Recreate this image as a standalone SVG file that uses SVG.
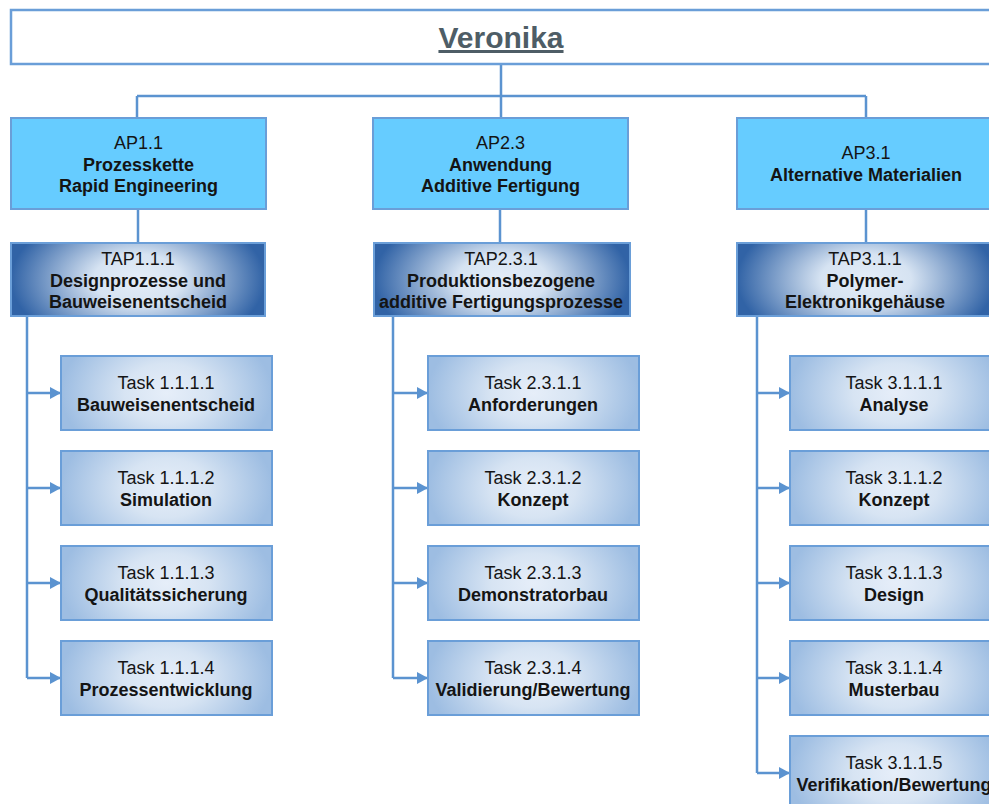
<svg xmlns="http://www.w3.org/2000/svg" width="989" height="804" viewBox="0 0 989 804">
<defs>
<style>
.t{font-family:"Liberation Sans",Arial,sans-serif;font-size:18px;fill:#141414;text-anchor:middle}
.b{font-weight:bold}
.title{font-family:"Liberation Sans",Arial,sans-serif;font-size:30px;font-weight:bold;fill:#4e5d66;text-anchor:middle;text-decoration:underline}
.ap{fill:#66ccff;stroke:#6a9ed8;stroke-width:2}
.tap{fill:url(#gTap);stroke:#6a9ed8;stroke-width:2}
.task{fill:url(#gTask);stroke:#6a9ed8;stroke-width:2}
.top{fill:#ffffff;stroke:#6a9ed8;stroke-width:2.5}
.ln{fill:none;stroke:#5b93d0;stroke-width:2.5}
</style>
<radialGradient id="gTap" cx="0.5" cy="0.5" r="0.5" gradientTransform="translate(0.5 0.5) scale(1 2) translate(-0.5 -0.5)">
<stop offset="0" stop-color="#e4edf8"/>
<stop offset="0.35" stop-color="#d6e3f2"/>
<stop offset="1" stop-color="#3163a6"/>
</radialGradient>
<radialGradient id="gTask" cx="0.5" cy="0.5" r="0.5" gradientTransform="translate(0.5 0.5) scale(1 2) translate(-0.5 -0.5)">
<stop offset="0" stop-color="#e6eef9"/>
<stop offset="0.4" stop-color="#d7e4f3"/>
<stop offset="1" stop-color="#9dbde2"/>
</radialGradient>
<marker id="arr" markerUnits="userSpaceOnUse" markerWidth="12" markerHeight="12" refX="11" refY="6" orient="auto">
<path d="M0,0 L11,6 L0,12 Z" fill="#5b93d0"/>
</marker>
</defs>
<rect width="989" height="804" fill="#ffffff"/>

<g id="connectors">
<path class="ln" d="M501,64 V96 M137,96 H866 M137,96 V118 M501,96 V118 M866,96 V118"/>
<path class="ln" d="M138,209 V243 M500,209 V243 M866,209 V243"/>
<path class="ln" d="M27,316 V678 M393,316 V678 M757,316 V773"/>
<g marker-end="url(#arr)">
<path class="ln" d="M27,393 H61"/>
<path class="ln" d="M27,488 H61"/>
<path class="ln" d="M27,583 H61"/>
<path class="ln" d="M27,678 H61"/>
<path class="ln" d="M393,393 H428"/>
<path class="ln" d="M393,488 H428"/>
<path class="ln" d="M393,583 H428"/>
<path class="ln" d="M393,678 H428"/>
<path class="ln" d="M757,393 H790"/>
<path class="ln" d="M757,488 H790"/>
<path class="ln" d="M757,583 H790"/>
<path class="ln" d="M757,678 H790"/>
<path class="ln" d="M757,773 H790"/>
</g>
</g>

<g id="veronika">
<rect class="top" x="11" y="10" width="990" height="54"/>
<text class="title" x="501" y="48">Veronika</text>
</g>

<g id="ap11">
<rect class="ap" x="11" y="118" width="255" height="91"/>
<text class="t" x="138.5" y="149">AP1.1</text>
<text class="t b" x="138.5" y="171">Prozesskette</text>
<text class="t b" x="138.5" y="192">Rapid Engineering</text>
</g>
<g id="ap23">
<rect class="ap" x="373" y="118" width="255" height="91"/>
<text class="t" x="500.5" y="149">AP2.3</text>
<text class="t b" x="500.5" y="171">Anwendung</text>
<text class="t b" x="500.5" y="192">Additive Fertigung</text>
</g>
<g id="ap31">
<rect class="ap" x="737" y="118" width="258" height="91"/>
<text class="t" x="866" y="159">AP3.1</text>
<text class="t b" x="866" y="181">Alternative Materialien</text>
</g>

<g id="tap111">
<rect class="tap" x="11" y="243" width="254" height="73"/>
<text class="t" x="138" y="265">TAP1.1.1</text>
<text class="t b" x="138" y="287">Designprozesse und</text>
<text class="t b" x="138" y="308">Bauweisenentscheid</text>
</g>
<g id="tap231">
<rect class="tap" x="374" y="243" width="256" height="73"/>
<text class="t" x="501" y="265">TAP2.3.1</text>
<text class="t b" x="501" y="287">Produktionsbezogene</text>
<text class="t b" x="501" y="308">additive Fertigungsprozesse</text>
</g>
<g id="tap311">
<rect class="tap" x="737" y="243" width="258" height="73"/>
<text class="t" x="865" y="265">TAP3.1.1</text>
<text class="t b" x="865" y="287">Polymer-</text>
<text class="t b" x="865" y="308">Elektronikgehäuse</text>
</g>

<g id="task1111">
<rect class="task" x="61" y="356" width="211" height="74"/>
<text class="t" x="166" y="389">Task 1.1.1.1</text>
<text class="t b" x="166" y="411">Bauweisenentscheid</text>
</g>
<g id="task1112">
<rect class="task" x="61" y="451" width="211" height="74"/>
<text class="t" x="166" y="484">Task 1.1.1.2</text>
<text class="t b" x="166" y="506">Simulation</text>
</g>
<g id="task1113">
<rect class="task" x="61" y="546" width="211" height="74"/>
<text class="t" x="166" y="579">Task 1.1.1.3</text>
<text class="t b" x="166" y="601">Qualitätssicherung</text>
</g>
<g id="task1114">
<rect class="task" x="61" y="641" width="211" height="74"/>
<text class="t" x="166" y="674">Task 1.1.1.4</text>
<text class="t b" x="166" y="696">Prozessentwicklung</text>
</g>

<g id="task2311">
<rect class="task" x="428" y="356" width="211" height="74"/>
<text class="t" x="533" y="389">Task 2.3.1.1</text>
<text class="t b" x="533" y="411">Anforderungen</text>
</g>
<g id="task2312">
<rect class="task" x="428" y="451" width="211" height="74"/>
<text class="t" x="533" y="484">Task 2.3.1.2</text>
<text class="t b" x="533" y="506">Konzept</text>
</g>
<g id="task2313">
<rect class="task" x="428" y="546" width="211" height="74"/>
<text class="t" x="533" y="579">Task 2.3.1.3</text>
<text class="t b" x="533" y="601">Demonstratorbau</text>
</g>
<g id="task2314">
<rect class="task" x="428" y="641" width="211" height="74"/>
<text class="t" x="533" y="674">Task 2.3.1.4</text>
<text class="t b" x="533" y="696">Validierung/Bewertung</text>
</g>

<g id="task3111">
<rect class="task" x="790" y="356" width="210" height="74"/>
<text class="t" x="894" y="389">Task 3.1.1.1</text>
<text class="t b" x="894" y="411">Analyse</text>
</g>
<g id="task3112">
<rect class="task" x="790" y="451" width="210" height="74"/>
<text class="t" x="894" y="484">Task 3.1.1.2</text>
<text class="t b" x="894" y="506">Konzept</text>
</g>
<g id="task3113">
<rect class="task" x="790" y="546" width="210" height="74"/>
<text class="t" x="894" y="579">Task 3.1.1.3</text>
<text class="t b" x="894" y="601">Design</text>
</g>
<g id="task3114">
<rect class="task" x="790" y="641" width="210" height="74"/>
<text class="t" x="894" y="674">Task 3.1.1.4</text>
<text class="t b" x="894" y="696">Musterbau</text>
</g>
<g id="task3115">
<rect class="task" x="790" y="736" width="210" height="74"/>
<text class="t" x="894" y="769">Task 3.1.1.5</text>
<text class="t b" x="894" y="791">Verifikation/Bewertung</text>
</g>
</svg>
